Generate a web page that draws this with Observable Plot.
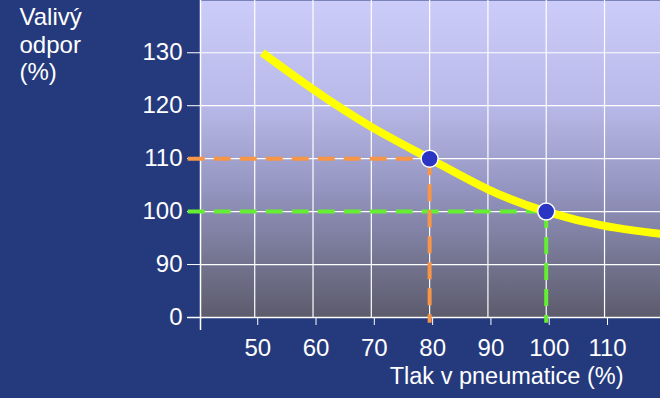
<!DOCTYPE html>
<html>
<head>
<meta charset="utf-8">
<script src="https://cdn.jsdelivr.net/npm/d3@7"></script>
<script src="https://cdn.jsdelivr.net/npm/@observablehq/plot@0.6"></script>
<style>
  html, body { margin: 0; padding: 0; background: #253A7D; }
  #chart svg { display: block; }
</style>
</head>
<body>
<div id="chart"></div>
<script>
// ---- data ----
const pressure = [51.3, 60, 70, 80, 90, 100, 110, 119.6];             // Tlak v pneumatice (%)
const resistance = [130, 123.1, 116.0, 110, 104.2, 100, 97.3, 95.8];  // Valivý odpor (%)
const xTicks = [50, 60, 70, 80, 90, 100, 110];
const yTicks = [80, 90, 100, 110, 120, 130];
const yTickLabels = ["0", "90", "100", "110", "120", "130"];
const markX = [80, 100];
const markY = [110, 100];
const markColors = ["#F79646", "#66EE33"];
const yTitle = "Valivý\nodpor\n(%)";
const xTitle = "Tlak v pneumatice (%)";

const curveData = pressure.map((p, i) => ({p, r: resistance[i]}));
const marks = markX.map((x, i) => ({x, y: markY[i], c: markColors[i]}));

const xDom = [40.7, 119.6];
const yDom = [80, 139.87];
const xLeftExt = 38.6;   // dashed guides / axis line start left of frame
const yLowExt = 78.9;    // dashed guides end below frame
const yAxisExt = 77.55;

const font = "Liberation Sans, Arial, sans-serif";

const chart = Plot.plot({
  width: 660,
  height: 398,
  marginLeft: 200,
  marginRight: 0,
  marginTop: 0,
  marginBottom: 81,
  style: {background: "#253A7D", color: "white", fontFamily: font, fontSize: "24px", overflow: "visible"},
  x: {domain: xDom},
  y: {domain: yDom},
  color: {type: "identity"},
  marks: [
    Plot.frame({fill: "url(#bgGrad)", stroke: "none"}),
    Plot.gridX(xTicks, {stroke: "white", strokeOpacity: 1, strokeWidth: 1.2}),
    Plot.gridY(yTicks, {stroke: "white", strokeOpacity: 1, strokeWidth: 1.2}),
    Plot.ruleX([xDom[0]], {y1: yAxisExt, y2: yDom[1], stroke: "white", strokeWidth: 1.5}),
    Plot.ruleY([yDom[0]], {x1: 38.5, x2: xDom[1], stroke: "white", strokeWidth: 1.5}),
    Plot.axisX({ticks: xTicks, tickSize: 8, tickPadding: 13, dx: 3, stroke: "white", fill: "white", fontSize: 24, label: null}),
    Plot.axisY({ticks: yTicks, tickSize: 13, tickPadding: 5, tickFormat: (d) => yTickLabels[yTicks.indexOf(d)], stroke: "white", fill: "white", fontSize: 24, label: null}),
    // dashed guide lines
    Plot.ruleY(marks, {y: "y", x1: xLeftExt, x2: "x", stroke: "c", strokeWidth: 4, strokeDasharray: "17,9"}),
    Plot.ruleX(marks, {x: "x", y1: "y", y2: yLowExt, stroke: "c", strokeWidth: 4, strokeDasharray: "17,9"}),
    Plot.line(curveData, {x: "p", y: "r", curve: "natural", stroke: "#FFFF00", strokeWidth: 8, strokeLinecap: "butt"}),
    Plot.dot(marks, {x: "x", y: "y", r: 8.5, fill: "#2A35C4", stroke: "white", strokeWidth: 1.5}),
    Plot.text([yTitle], {frameAnchor: "top-left", dx: -181, dy: 5, textAnchor: "start", lineAnchor: "top", lineHeight: 1.15, fontSize: 24, fill: "white"}),
    Plot.text([xTitle], {frameAnchor: "bottom-right", dx: -37, dy: 66, textAnchor: "end", lineAnchor: "bottom", fontSize: 23.5, fill: "white"})
  ]
});

// gradient definition for the plot area
const defs = d3.select(chart).insert("defs", ":first-child");
const grad = defs.append("linearGradient").attr("id", "bgGrad").attr("x1", 0).attr("y1", 0).attr("x2", 0).attr("y2", 1);
[[0, "#CBCCF9"], [0.33, "#B8B9E8"], [0.6, "#9394BF"], [1, "#5C5B6C"]].forEach(([o, c]) =>
  grad.append("stop").attr("offset", o).attr("stop-color", c));

document.getElementById("chart").appendChild(chart);
</script>
</body>
</html>
